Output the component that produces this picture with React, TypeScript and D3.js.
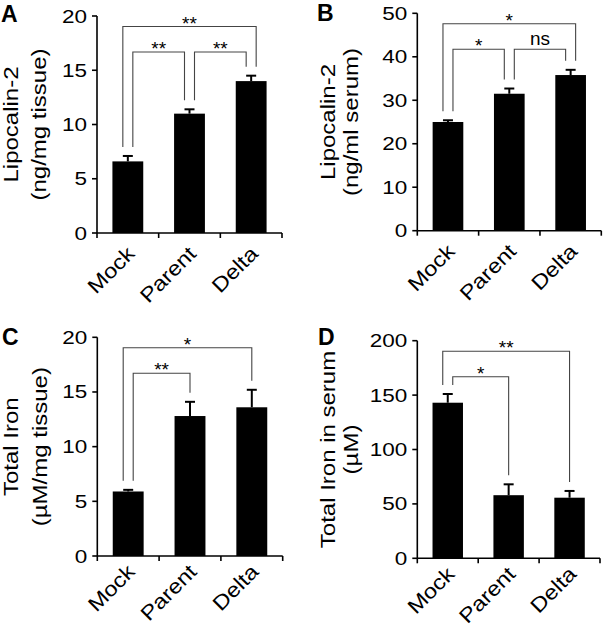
import React from "react";
import * as d3 from "d3";

// ---------- data ----------
const categories = ["Mock", "Parent", "Delta"];

const lcnTissueMean = [6.6, 11.0, 14.0];
const lcnTissueErr = [0.5, 0.4, 0.5];
const lcnSerumMean = [25.0, 31.5, 35.8];
const lcnSerumErr = [0.4, 1.2, 1.2];
const ironTissueMean = [5.9, 12.8, 13.6];
const ironTissueErr = [0.15, 1.3, 1.6];
const ironSerumMean = [143, 58, 55.7];
const ironSerumErr = [8, 10, 6.2];

const ticksA = [0, 5, 10, 15, 20];
const ticksB = [0, 10, 20, 30, 40, 50];
const ticksC = [0, 5, 10, 15, 20];
const ticksD = [0, 50, 100, 150, 200];

const sigA = [
  { from: 0, to: 1, label: "**" },
  { from: 1, to: 2, label: "**" },
  { from: 0, to: 2, label: "**" },
];
const sigB = [
  { from: 0, to: 1, label: "*" },
  { from: 1, to: 2, label: "ns" },
  { from: 0, to: 2, label: "*" },
];
const sigC = [
  { from: 0, to: 1, label: "**" },
  { from: 0, to: 2, label: "*" },
];
const sigD = [
  { from: 0, to: 1, label: "*" },
  { from: 0, to: 2, label: "**" },
];

// ---------- layout ----------
const FONT = "'Liberation Sans', Arial, Helvetica, sans-serif";

type Panel = {
  letter: string;
  mean: number[];
  err: number[];
  ticks: number[];
  sig: { from: number; to: number; label: string }[];
  label1: string;
  label2: string;
  x0: number; x1: number; y0: number; y1: number;
  l1: number; l2: number;
  lx: number; ly: number;
  xl: number;
};

const panels: Panel[] = [
  { letter: "A", mean: lcnTissueMean, err: lcnTissueErr, ticks: ticksA, sig: sigA,
    label1: "Lipocalin-2", label2: "(ng/mg tissue)",
    x0: 97, x1: 282, y0: 16, y1: 233, l1: 79, l2: 51, lx: 1, ly: 22, xl: 22 },
  { letter: "B", mean: lcnSerumMean, err: lcnSerumErr, ticks: ticksB, sig: sigB,
    label1: "Lipocalin-2", label2: "(ng/ml serum)",
    x0: 417.3, x1: 601.3, y0: 13.3, y1: 230.7, l1: 82, l2: 59, lx: 317, ly: 21, xl: 22 },
  { letter: "C", mean: ironTissueMean, err: ironTissueErr, ticks: ticksC, sig: sigC,
    label1: "Total Iron", label2: "(µM/mg tissue)",
    x0: 97.3, x1: 282.7, y0: 337.3, y1: 556, l1: 79, l2: 50, lx: 2, ly: 345, xl: 17 },
  { letter: "D", mean: ironSerumMean, err: ironSerumErr, ticks: ticksD, sig: sigD,
    label1: "Total Iron in serum", label2: "(µM)",
    x0: 417.3, x1: 600, y0: 340.7, y1: 558.3, l1: 82, l2: 59, lx: 318, ly: 345, xl: 17 },
];

function PanelView({ p }: { p: Panel }) {
  const x = d3.scaleBand<string>().domain(categories).range([p.x0, p.x1])
    .paddingInner(0.5).paddingOuter(0.25);
  const y = d3.scaleLinear().domain([p.ticks[0], p.ticks[p.ticks.length - 1]]).range([p.y1, p.y0]);
  const step = x.step();
  const bw = x.bandwidth();
  const cx = (i: number) => (x(categories[i]) as number) + bw / 2;
  const boundaries = d3.range(categories.length + 1).map((i) => p.x0 + i * step);

  // bracket leg x for each bracket end
  const legX = new Map<string, number>();
  categories.forEach((_, i) => {
    const att = p.sig
      .map((s, k) => ({ k, partner: s.from === i ? s.to : s.from, has: s.from === i || s.to === i }))
      .filter((a) => a.has)
      .sort((a, b) => 1 / (a.partner - i) - 1 / (b.partner - i));
    att.forEach((a, j) => {
      const off = att.length === 1 ? 0 : j === 0 ? -5 : 5;
      legX.set(a.k + "-" + i, cx(i) + off);
    });
  });
  const errTop = (i: number) => y(p.mean[i] + p.err[i]);
  const midY = (p.y0 + p.y1) / 2;

  return (
    <g>
      <text x={p.lx} y={p.ly} fontFamily={FONT} fontWeight="bold" fontSize={23}>{p.letter}</text>
      {/* y label */}
      <g transform={`translate(${p.x0 - p.l1},${midY}) rotate(-90) scale(1.2,1)`}>
        <text textAnchor="middle" fontFamily={FONT} fontSize={20}>{p.label1}</text>
      </g>
      <g transform={`translate(${p.x0 - p.l2},${midY}) rotate(-90) scale(1.2,1)`}>
        <text textAnchor="middle" fontFamily={FONT} fontSize={20}>{p.label2}</text>
      </g>
      {/* bars */}
      {categories.map((c, i) => (
        <rect key={c} x={x(c)} y={y(p.mean[i])} width={bw} height={p.y1 - y(p.mean[i])} fill="#000" />
      ))}
      {/* error bars */}
      {categories.map((c, i) => (
        <g key={"e" + c} stroke="#000" strokeWidth={2}>
          <line x1={cx(i)} x2={cx(i)} y1={y(p.mean[i])} y2={errTop(i)} />
          <line x1={cx(i) - 5} x2={cx(i) + 5} y1={errTop(i)} y2={errTop(i)} />
        </g>
      ))}
      {/* y axis */}
      <line x1={p.x0} x2={p.x0} y1={p.y0} y2={p.y1} stroke="#000" strokeWidth={1.6} />
      {p.ticks.map((t) => (
        <g key={"t" + t}>
          <line x1={p.x0 - 5} x2={p.x0} y1={y(t)} y2={y(t)} stroke="#000" strokeWidth={1.6} />
          <g transform={`translate(${p.x0 - 10},${y(t) + 6.5}) scale(1.25,1)`}>
            <text textAnchor="end" fontFamily={FONT} fontSize={18}>{t}</text>
          </g>
        </g>
      ))}
      {/* x axis */}
      <line x1={p.x0} x2={p.x1} y1={p.y1} y2={p.y1} stroke="#000" strokeWidth={1.6} />
      {boundaries.map((bx, i) => (
        <line key={"xb" + i} x1={bx} x2={bx} y1={p.y1} y2={p.y1 + 5} stroke="#000" strokeWidth={1.6} />
      ))}
      {categories.map((c, i) => (
        <g key={"xl" + c} transform={`translate(${cx(i) + 8},${p.y1 + p.xl}) rotate(-45) scale(1.15,1)`}>
          <text textAnchor="end" fontFamily={FONT} fontSize={20.5}>{c}</text>
        </g>
      ))}
      {/* significance brackets */}
      {p.sig.map((s, k) => {
        const level = Math.abs(s.to - s.from);
        const by = p.y0 + 36 - (level - 1) * 25.5;
        const xa = legX.get(k + "-" + s.from) as number;
        const xb = legX.get(k + "-" + s.to) as number;
        const ya = errTop(s.from) - 9;
        const yb = errTop(s.to) - 9;
        const isNs = s.label === "ns";
        return (
          <g key={"s" + k}>
            <path d={`M${xa},${ya}V${by}H${xb}V${yb}`} fill="none" stroke="#444" strokeWidth={1.1} />
            <text x={(xa + xb) / 2} y={isNs ? by - 4 : by + 3} textAnchor="middle"
              fontFamily={FONT} fontSize={19}>{s.label}</text>
          </g>
        );
      })}
    </g>
  );
}

export default function App() {
  return (
    <svg width={603} height={627} viewBox="0 0 603 627"
      style={{ position: "absolute", left: 0, top: 0, background: "#fff" }}>
      <rect width={603} height={627} fill="#fff" />
      {panels.map((p) => <PanelView key={p.letter} p={p} />)}
    </svg>
  );
}
